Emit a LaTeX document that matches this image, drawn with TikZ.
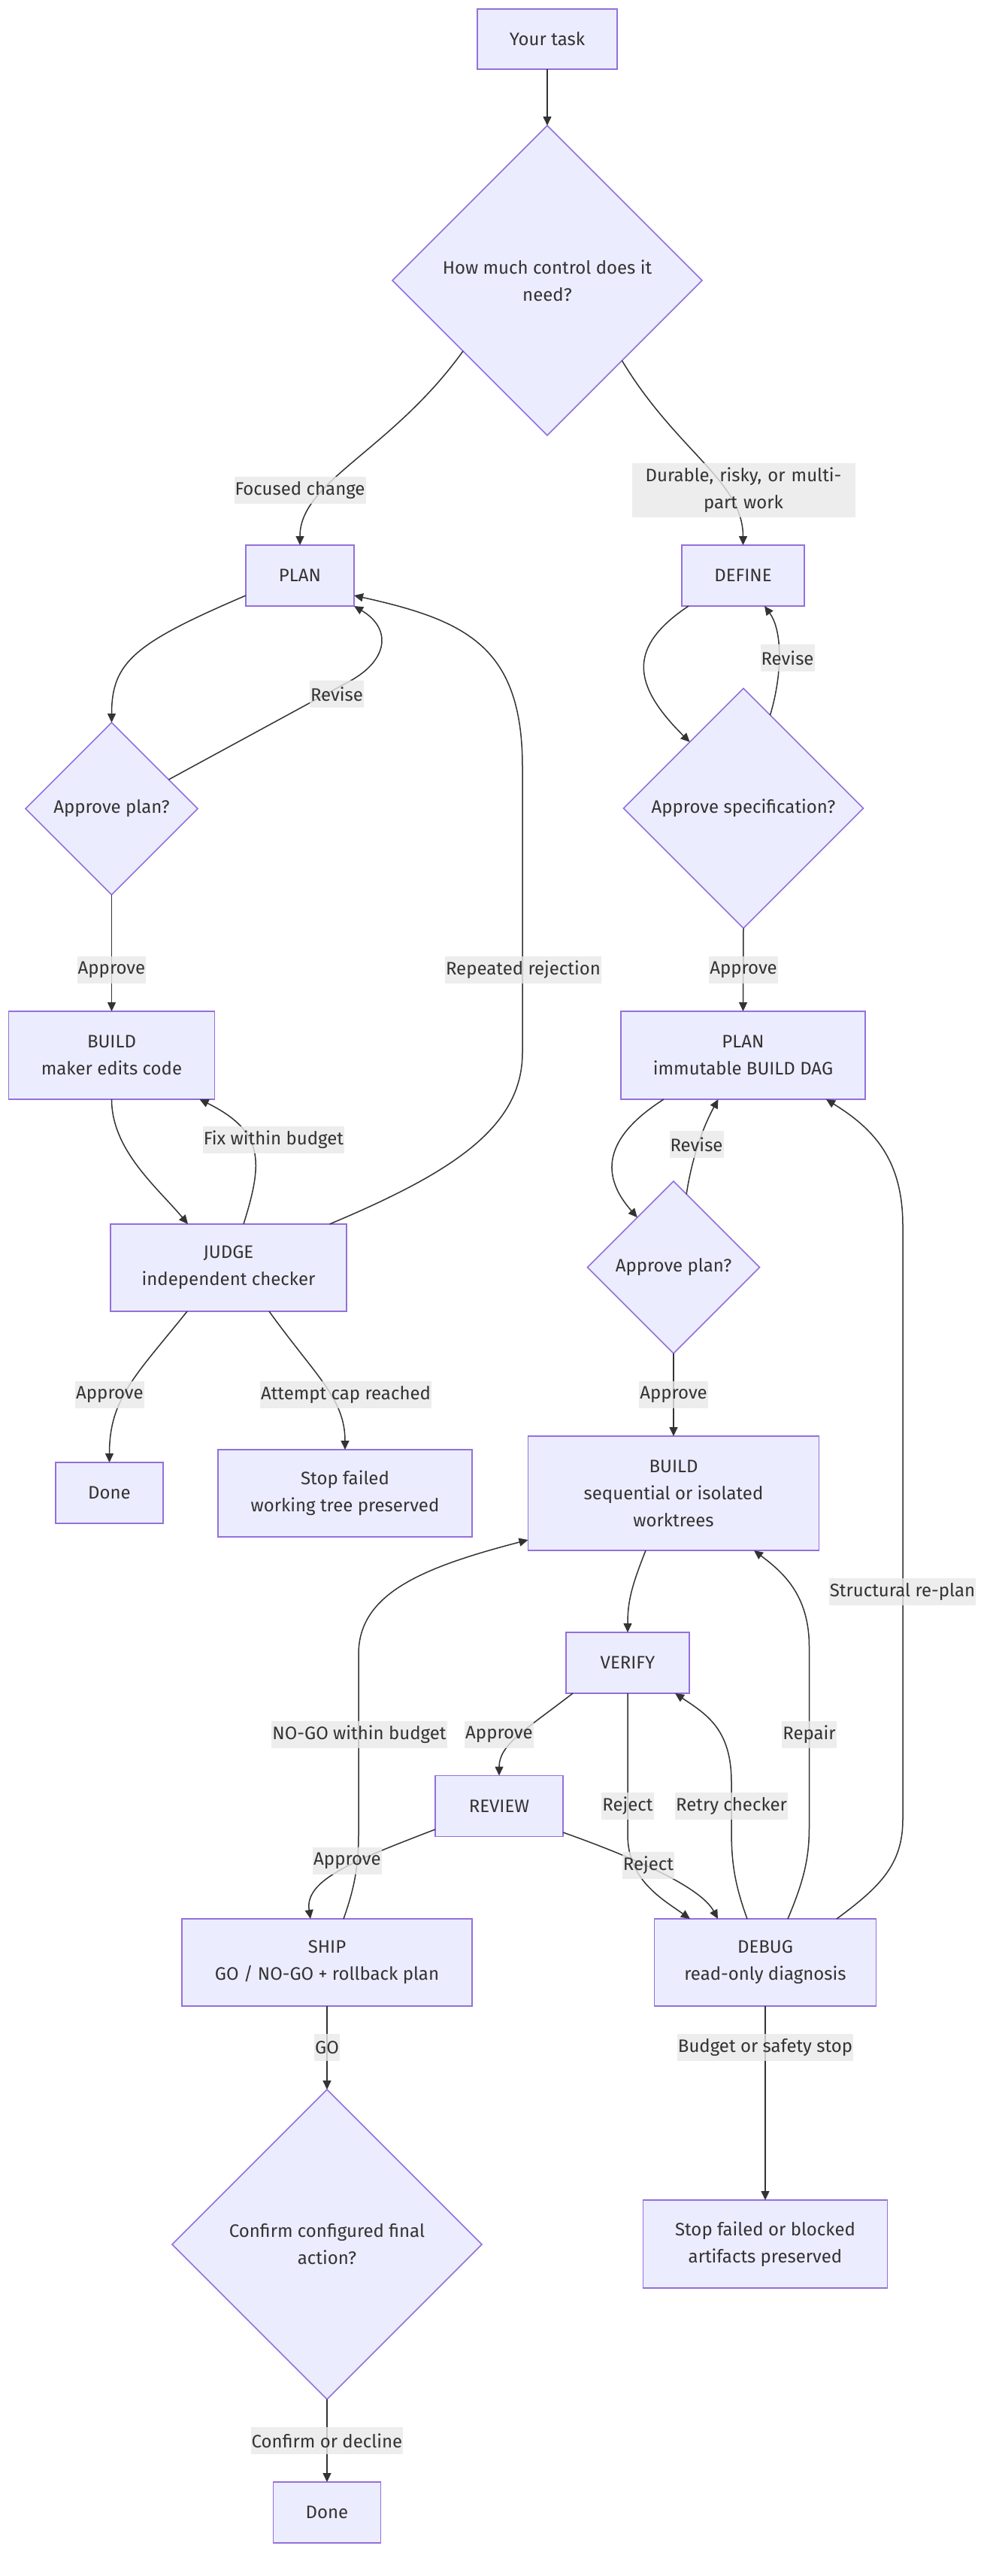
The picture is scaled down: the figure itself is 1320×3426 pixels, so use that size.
\documentclass[tikz,border=0pt]{standalone}
\usepackage{fontspec}
\setmainfont{Fira Sans}
\usetikzlibrary{shapes.geometric,arrows.meta}
\definecolor{nodefill}{HTML}{ECECFF}
\definecolor{nodeline}{HTML}{9370DB}
\definecolor{edgecol}{HTML}{333333}
\definecolor{lblgray}{HTML}{E8E8E8}
\begin{document}
\begin{tikzpicture}[x=1pt,y=-1pt,
  font=\fontsize{24}{36}\selectfont, text=edgecol,
  box/.style={draw=nodeline, fill=nodefill, line width=1.5pt, rectangle, inner sep=0pt, outer sep=0pt, align=center},
  dia/.style={draw=nodeline, fill=nodefill, line width=1.5pt, diamond, aspect=1, inner sep=0pt, outer sep=0pt, align=center},
  lbl/.style={fill=lblgray, fill opacity=0.8, text opacity=1, inner xsep=1pt, inner ysep=0pt, minimum height=36pt, align=center},
  edge/.style={draw=edgecol, line width=1.5pt, -{Triangle[length=12pt,width=11pt]}}]
\useasboundingbox (0,0) rectangle (1320,3426);
% nodes
\node[box, minimum width=186pt, minimum height=80pt] (task) at (728,52) {Your task};
\node[dia, minimum width=412pt, minimum height=412pt] (q1) at (728,373) {How much control does it\\need?};
\node[box, minimum width=144pt, minimum height=81pt] (plan1) at (399,765.5) {PLAN};
\node[box, minimum width=163pt, minimum height=81pt] (define) at (988.5,765.5) {DEFINE};
\node[dia, minimum width=229pt, minimum height=229pt] (ap1) at (148.5,1075.5) {Approve plan?};
\node[dia, minimum width=319pt, minimum height=319pt] (spec) at (989,1075) {Approve specification?};
\node[box, minimum width=274pt, minimum height=117pt] (build1) at (148.5,1403.5) {BUILD\\maker edits code};
\node[box, minimum width=325pt, minimum height=117pt] (plan2) at (988.5,1403.5) {PLAN\\immutable BUILD DAG};
\node[box, minimum width=314pt, minimum height=116pt] (judge) at (304,1686) {JUDGE\\independent checker};
\node[dia, minimum width=229pt, minimum height=229pt] (ap2) at (896,1685.5) {Approve plan?};
\node[box, minimum width=143pt, minimum height=81pt] (done1) at (145.5,1985.5) {Done};
\node[box, minimum width=338pt, minimum height=116pt] (stop1) at (459,1986) {Stop failed\\working tree preserved};
\node[box, minimum width=387pt, minimum height=152pt] (build2) at (896,1986) {BUILD\\sequential or isolated\\worktrees};
\node[box, minimum width=164pt, minimum height=81pt] (verify) at (835,2211.5) {VERIFY};
\node[box, minimum width=170pt, minimum height=81pt] (review) at (664,2402) {REVIEW};
\node[box, minimum width=386pt, minimum height=116pt] (ship) at (435,2610) {SHIP\\GO / NO-GO + rollback plan};
\node[box, minimum width=295pt, minimum height=116pt] (debug) at (1018,2610) {DEBUG\\read-only diagnosis};
\node[dia, minimum width=412pt, minimum height=412pt] (confirm) at (435,2985) {Confirm configured final\\action?};
\node[box, minimum width=325pt, minimum height=117pt] (stop2) at (1018,2984.5) {Stop failed or blocked\\artifacts preserved};
\node[box, minimum width=143pt, minimum height=81pt] (done2) at (435,3341.5) {Done};
% edges
\draw[edge] (task.south) -- (q1.north);
\draw[edge] (q1.220) .. controls (520,600) and (399,640) .. (plan1.north);
\draw[edge] (q1.313) .. controls (900,600) and (988.5,640) .. (define.north);
\draw[edge] ([yshift=14pt]plan1.south west) .. controls (180,855) and (148.5,880) .. (ap1.north);
\draw[edge] (ap1.27) -- (467,905) .. controls (518,876) and (520,835) .. (plan1.south east);
\draw[edge] (ap1.south) -- (build1.north);
\draw[edge] (build1.south) .. controls (148.5,1530) and (210,1580) .. ([xshift=-54pt]judge.north);
\draw[edge] ([xshift=20pt]judge.north) .. controls (350,1545) and (352,1505) .. ([xshift=117pt]build1.south);
\draw[edge] ([xshift=134.5pt]judge.north) .. controls (600,1560) and (695,1500) .. (695,1400) -- (695,1020) .. controls (695,860) and (620,825) .. ([yshift=14pt]plan1.south east);
\draw[edge] ([xshift=-55pt]judge.south) .. controls (180,1830) and (145.5,1860) .. (done1.north);
\draw[edge] ([xshift=54pt]judge.south) .. controls (420,1830) and (459,1860) .. (stop1.north);
\draw[edge] ([xshift=9pt]define.south west) .. controls (835,860) and (840,910) .. (spec.129.5);
\draw[edge] (spec.74) .. controls (1040,900) and (1042,840) .. ([xshift=28.5pt]define.south);
\draw[edge] (spec.south) -- (plan2.north);
\draw[edge] ([xshift=-105.5pt]plan2.south) .. controls (800,1515) and (800,1565) .. (ap2.126);
\draw[edge] (ap2.80.5) .. controls (922,1530) and (940,1490) .. ([xshift=-33pt]plan2.south);
\draw[edge] (ap2.south) -- (build2.north);
\draw[edge] ([xshift=-37pt]build2.south) .. controls (840,2110) and (835,2130) .. (verify.north);
\draw[edge] ([xshift=-73pt]verify.south) .. controls (700,2300) and (664,2320) .. (review.north);
\draw[edge] (verify.south) -- (835,2440) .. controls (835,2500) and (880,2525) .. ([xshift=-100pt]debug.north);
\draw[edge] ([xshift=-24pt]debug.north) .. controls (975,2500) and (973,2470) .. (973,2430) -- (973,2370) .. controls (973,2300) and (940,2280) .. ([xshift=63pt]verify.south);
\draw[edge] ([yshift=9.5pt]review.south west) .. controls (470,2475) and (405,2500) .. ([xshift=-22pt]ship.north);
\draw[edge] ([yshift=5.5pt]review.south east) .. controls (870,2480) and (935,2515) .. ([xshift=-63pt]debug.north);
\draw[edge] ([xshift=22pt]ship.north) .. controls (472,2510) and (477,2480) .. (477,2440) -- (477,2200) .. controls (477,2120) and (560,2085) .. ([yshift=14pt]build2.south west);
\draw[edge] ([xshift=30pt]debug.north) .. controls (1070,2500) and (1076.5,2470) .. (1076.5,2430) -- (1076.5,2190) .. controls (1076.5,2120) and (1040,2090) .. ([xshift=107pt]build2.south);
\draw[edge] ([xshift=95pt]debug.north) .. controls (1170,2510) and (1201,2480) .. (1201,2420) -- (1201,1630) .. controls (1201,1540) and (1160,1500) .. ([xshift=110.5pt]plan2.south);
\draw[edge] (ship.south) -- (confirm.north);
\draw[edge] (debug.south) -- (stop2.north);
\draw[edge] (confirm.south) -- (done2.north);
% labels
\node[lbl] (l1) at (399,652) {Focused change};
\node[lbl, minimum height=72pt, text width=295pt] (l2) at (989,652) {Durable, risky, or multi-\\part work};
\node[lbl] (l3) at (448,923) {Revise};
\node[lbl] (l4) at (1047.5,875) {Revise};
\node[lbl] (l5) at (148.5,1290) {Approve};
\node[lbl] (l6) at (696,1290) {Repeated rejection};
\node[lbl] (l7) at (989,1290) {Approve};
\node[lbl] (l8) at (364,1516) {Fix within budget};
\node[lbl] (l9) at (926.5,1522) {Revise};
\node[lbl] (l10) at (146,1855) {Approve};
\node[lbl] (l11) at (460,1855) {Attempt cap reached};
\node[lbl] (l12) at (896,1855) {Approve};
\node[lbl] (l13) at (1200.5,2117) {Structural re-plan};
\node[lbl] (l14) at (664,2307) {Approve};
\node[lbl] (l15) at (478,2307) {NO-GO within budget};
\node[lbl] (l16) at (1076.5,2307) {Repair};
\node[lbl] (l17) at (835,2402) {Reject};
\node[lbl] (l18) at (973,2402) {Retry checker};
\node[lbl] (l19) at (462,2475) {Approve};
\node[lbl] (l20) at (862.5,2481) {Reject};
\node[lbl] (l21) at (435,2723) {GO};
\node[lbl] (l22) at (1018,2723) {Budget or safety stop};
\node[lbl] (l23) at (435,3246) {Confirm or decline};
\end{tikzpicture}
\end{document}
